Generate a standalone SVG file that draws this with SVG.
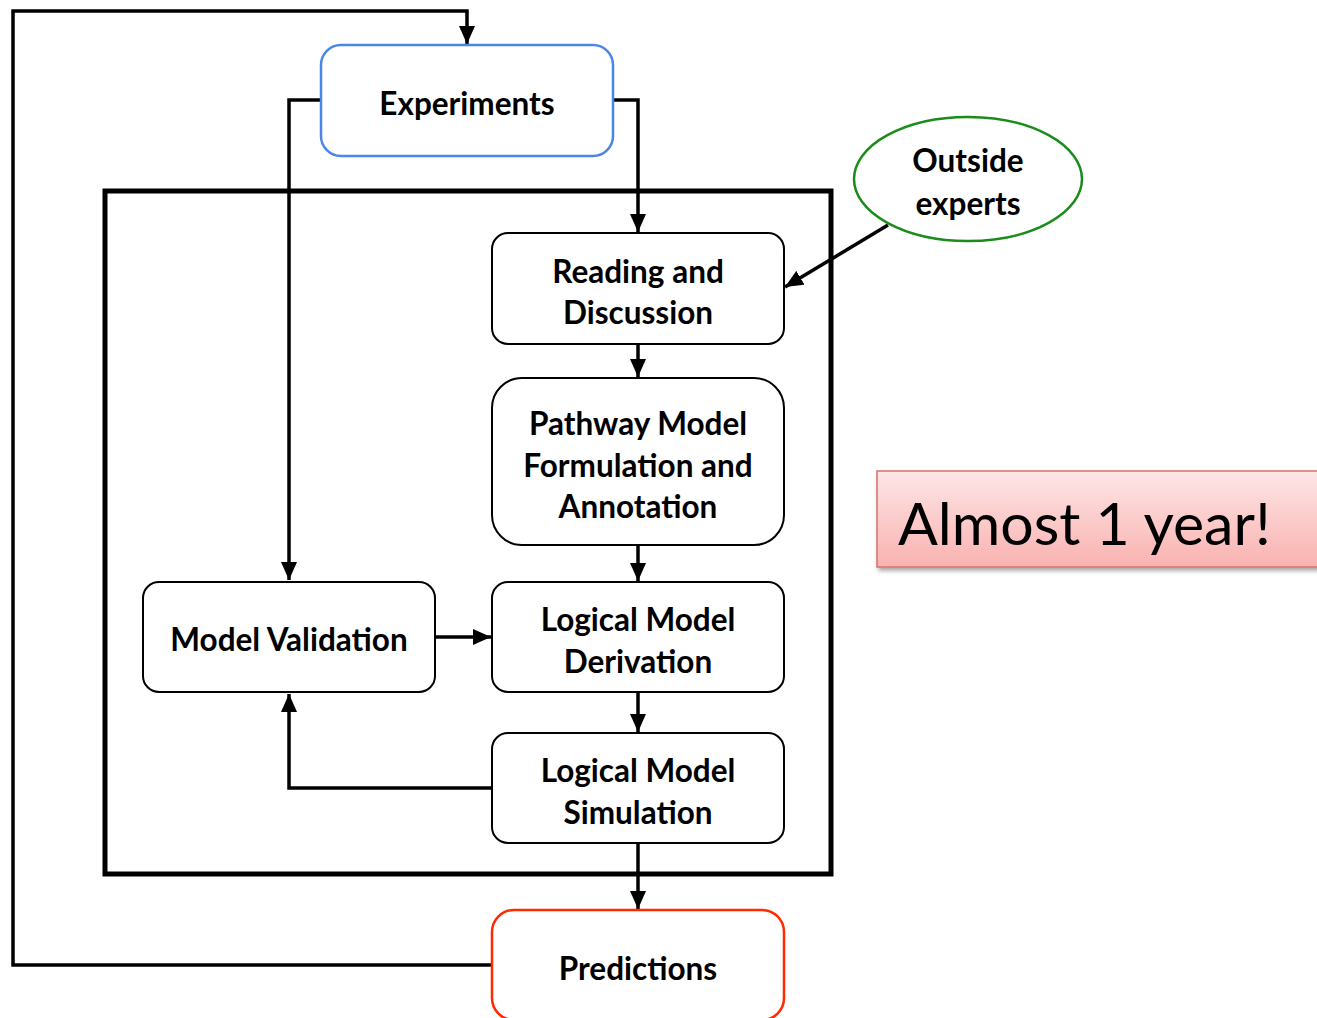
<svg xmlns="http://www.w3.org/2000/svg" width="1317" height="1018" viewBox="0 0 1317 1018">
  <defs>
    <marker id="arrow" markerUnits="userSpaceOnUse" markerWidth="18" markerHeight="16" refX="18" refY="8" orient="auto">
      <path d="M0,0 L18,8 L0,16 Z" fill="#000"/>
    </marker>
    <linearGradient id="pinkFill" x1="0" y1="0" x2="0" y2="1">
      <stop offset="0" stop-color="#fde6e6"/>
      <stop offset="1" stop-color="#f9b2b0"/>
    </linearGradient>
    <filter id="shadow" x="-5%" y="-10%" width="115%" height="130%">
      <feDropShadow dx="2" dy="3" stdDeviation="2" flood-color="#000" flood-opacity="0.35"/>
    </filter>
    <style>
      .box { fill: #fff; stroke: #000; stroke-width: 2; }
      .lbl { font-family: Lato, "Liberation Sans", sans-serif; font-weight: bold; font-size: 31.5px; fill: #000; text-anchor: middle; }
      .wire { fill: none; stroke: #000; stroke-width: 3.5; }
    </style>
  </defs>

  <rect width="1317" height="1018" fill="#fff"/>

  <!-- outer frame around the modelling loop -->
  <rect x="105" y="191" width="726" height="683" fill="none" stroke="#000" stroke-width="5"/>

  <g id="connectors">
    <path class="wire" d="M492,965 H13 V11 H467 V44" marker-end="url(#arrow)"/>
    <path class="wire" d="M321,100 H289 V580" marker-end="url(#arrow)"/>
    <path class="wire" d="M613,100 H638 V232" marker-end="url(#arrow)"/>
    <path class="wire" d="M888,225 L785,287" marker-end="url(#arrow)"/>
    <path class="wire" d="M638,344 V377" marker-end="url(#arrow)"/>
    <path class="wire" d="M638,545 V581" marker-end="url(#arrow)"/>
    <path class="wire" d="M435,637 H491" marker-end="url(#arrow)"/>
    <path class="wire" d="M638,692 V732" marker-end="url(#arrow)"/>
    <path class="wire" d="M492,788 H289 V694" marker-end="url(#arrow)"/>
    <path class="wire" d="M638,843 V909" marker-end="url(#arrow)"/>
  </g>

  <g id="experiments">
    <rect x="321" y="45" width="292" height="111" rx="20" fill="#fff" stroke="#4a86e8" stroke-width="2.5"/>
    <text class="lbl" x="467" y="115">Experiments</text>
  </g>

  <g id="outside-experts">
    <ellipse cx="968" cy="179" rx="114" ry="62" fill="#fff" stroke="#1a8c1a" stroke-width="2.5"/>
    <text class="lbl" x="968" y="172">Outside</text>
    <text class="lbl" x="968" y="215">experts</text>
  </g>

  <g id="reading-discussion">
    <rect class="box" x="492" y="233" width="292" height="111" rx="16"/>
    <text class="lbl" x="638" y="283">Reading and</text>
    <text class="lbl" x="638" y="324">Discussion</text>
  </g>

  <g id="pathway-model">
    <rect class="box" x="492" y="378" width="292" height="167" rx="30"/>
    <text class="lbl" x="638" y="435">Pathway Model</text>
    <text class="lbl" x="638" y="477">Formulation and</text>
    <text class="lbl" x="638" y="518">Annotation</text>
  </g>

  <g id="model-validation">
    <rect class="box" x="143" y="582" width="292" height="110" rx="16"/>
    <text class="lbl" x="289" y="651">Model Validation</text>
  </g>

  <g id="logical-derivation">
    <rect class="box" x="492" y="582" width="292" height="110" rx="16"/>
    <text class="lbl" x="638" y="631">Logical Model</text>
    <text class="lbl" x="638" y="673">Derivation</text>
  </g>

  <g id="logical-simulation">
    <rect class="box" x="492" y="733" width="292" height="110" rx="16"/>
    <text class="lbl" x="638" y="782">Logical Model</text>
    <text class="lbl" x="638" y="824">Simulation</text>
  </g>

  <g id="predictions">
    <rect x="492" y="910" width="292" height="110" rx="22" fill="#fff" stroke="#ff2a00" stroke-width="2.5"/>
    <text class="lbl" x="638" y="980">Predictions</text>
  </g>

  <g id="duration-note">
    <rect x="877" y="471" width="460" height="96" fill="url(#pinkFill)" stroke="#d9706c" stroke-width="1.5" filter="url(#shadow)"/>
    <text x="898" y="545" font-family="Lato, 'Liberation Sans', sans-serif" font-size="59" fill="#000">Almost 1 year!</text>
  </g>
</svg>
